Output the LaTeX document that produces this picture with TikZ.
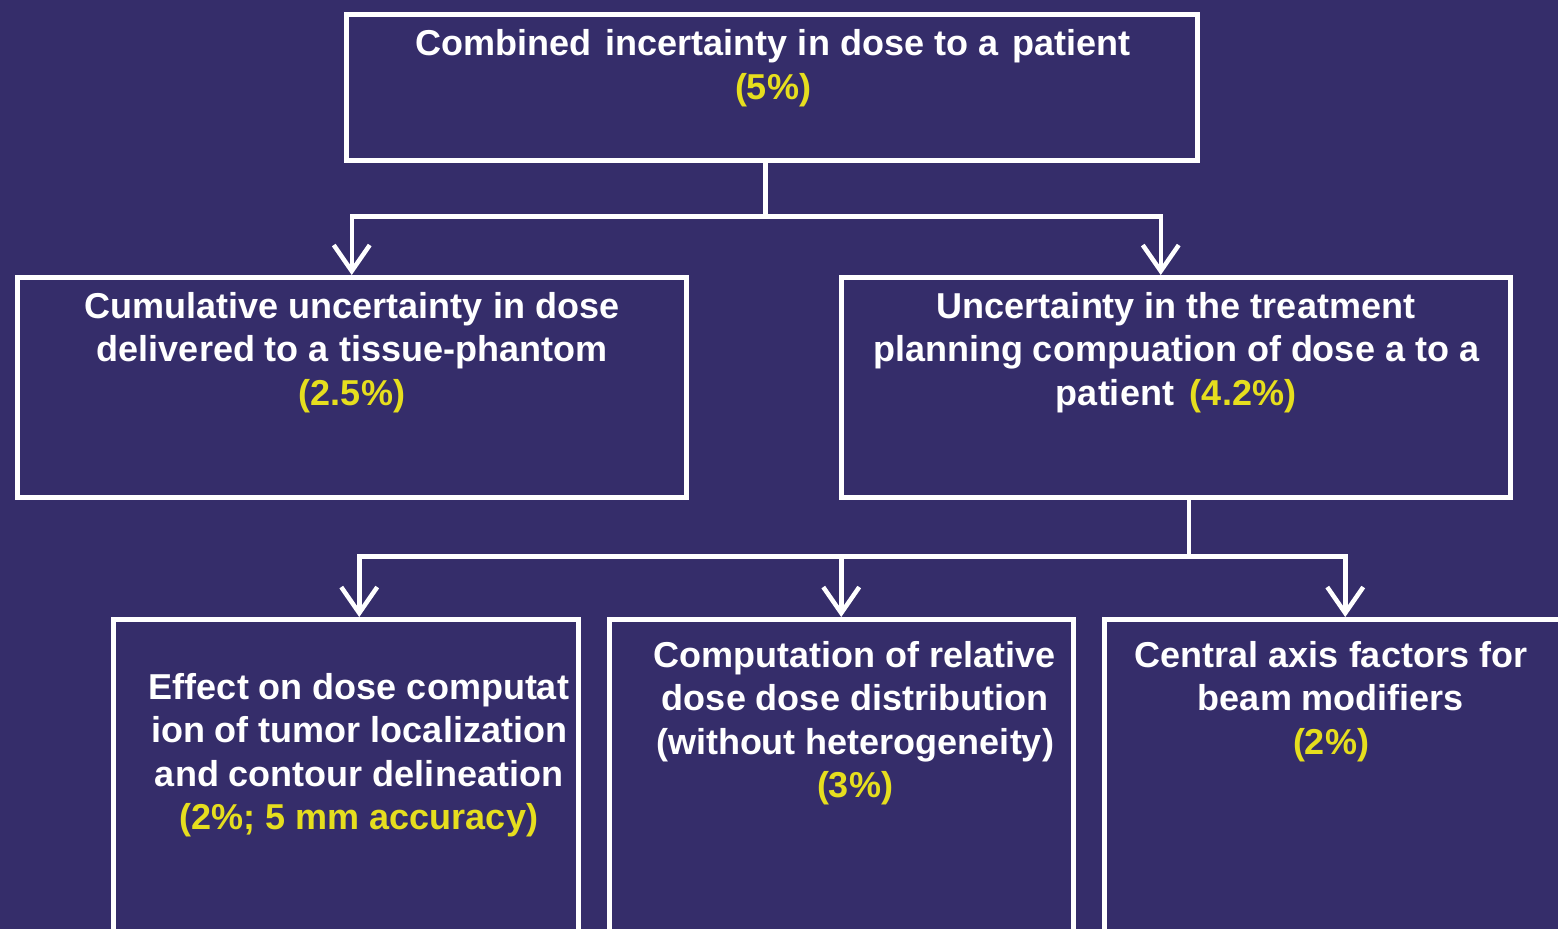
\documentclass[tikz,border=0pt]{standalone}
\usepackage{fontspec}
\setmainfont{Liberation Sans}
\usetikzlibrary{arrows.meta}
\definecolor{bg}{HTML}{352D6A}
\definecolor{yel}{HTML}{E6DE1E}
\begin{document}
\begin{tikzpicture}[x=1pt,y=-1pt,
  box/.style={draw=white, line width=4.5pt, inner sep=0pt, anchor=north west},
  txt/.style={text=white, align=center, inner sep=0pt, anchor=base, font=\bfseries\fontsize{36}{43.5}\selectfont},
  conn/.style={draw=white, line width=4.5pt},
  arr/.style={conn, -{Straight Barb[length=26pt, width=36pt, line width=4.5pt]}}]
\fill[bg] (0,0) rectangle (1558,929);
\useasboundingbox (0,0) rectangle (1558,929);
\clip (0,0) rectangle (1558,929);
% boxes
\node[box, minimum width=851pt, minimum height=146pt] (top) at (344,12) {};
\node[box, minimum width=669pt, minimum height=220pt] (lm) at (15,275) {};
\node[box, minimum width=669pt, minimum height=220pt] (rm) at (839,275) {};
\node[box, minimum width=465pt, minimum height=360pt] (b1) at (111,617) {};
\node[box, minimum width=464pt, minimum height=360pt] (b2) at (607,617) {};
\node[box, minimum width=480pt, minimum height=360pt] (b3) at (1102,617) {};
% texts (anchor = baseline of last line)
\node[txt] (ttop) at (773,99) {Combined\hspace{4pt} incertainty in dose to a \hspace{4pt}patient\\ \textcolor{yel}{(5\%)}};
\node[txt] (tlm) at (352,405) {Cumulative uncertainty in dose\\ delivered to a tissue-phantom\\ \textcolor{yel}{(2.5\%)}};
\node[txt] (trm) at (1176,405) {Uncertainty in the treatment\\ planning compuation of dose a to a\\ patient \hspace{6pt}\textcolor{yel}{(4.2\%)}};
\node[txt] (tb1) at (359,829.5) {Effect on dose computat\\ ion of tumor localization\\ and contour delineation\\ \textcolor{yel}{(2\%; 5 mm accuracy)}};
\node[txt] (tb2) at (855,797.5) {Computation of relative\\ dose dose distribution\\ (without heterogeneity)\\ \textcolor{yel}{(3\%)}};
\node[txt] (tb3) at (1331,754) {Central axis factors for\\ beam modifiers\\ \textcolor{yel}{(2\%)}};
% connectors
\draw[conn] ([xshift=-6.5pt]top.south) -- ++(0,54) coordinate (j1);
\draw[arr] (j1) -| (lm.north);
\draw[arr] (j1) -| ([xshift=-15pt]rm.north);
\draw[conn] ([xshift=13pt]rm.south) -- ++(0,57) coordinate (j2);
\draw[arr] (j2) -| ([xshift=13.5pt]b1.north);
\draw[arr] (j2) -| (b2.north);
\draw[arr] (j2) -| ([xshift=1pt]b3.north);
\end{tikzpicture}
\end{document}
